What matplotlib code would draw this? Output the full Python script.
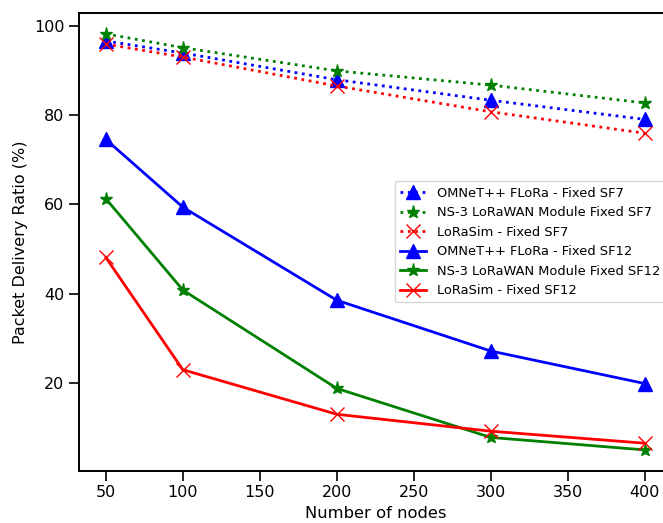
import matplotlib
matplotlib.use("Agg")
import matplotlib.pyplot as plt

nodes = [50, 100, 200, 300, 400]

omnet_sf7 = [96.7, 94.0, 88.0, 83.4, 79.1]
ns3_sf7 = [98.3, 95.2, 90.0, 86.8, 82.8]
lorasim_sf7 = [96.0, 93.1, 86.6, 80.8, 76.0]

omnet_sf12 = [74.6, 59.4, 38.5, 27.1, 19.8]
ns3_sf12 = [61.3, 40.8, 18.7, 7.7, 4.9]
lorasim_sf12 = [48.1, 22.9, 12.9, 9.1, 6.4]

plt.rcParams['font.size'] = 11.5
plt.rcParams['axes.linewidth'] = 1.4
plt.rcParams['xtick.major.size'] = 7
plt.rcParams['ytick.major.size'] = 7
plt.rcParams['xtick.major.width'] = 1.2
plt.rcParams['ytick.major.width'] = 1.2

fig = plt.figure(figsize=(6.63, 5.23), dpi=100)
ax = fig.add_axes([0.119, 0.100, 0.894, 0.875])

ax.plot(nodes, omnet_sf7, 'b^:', lw=2, ms=9.5, label='OMNeT++ FLoRa - Fixed SF7')
ax.plot(nodes, ns3_sf7, 'g*:', lw=2, ms=9.5, label='NS-3 LoRaWAN Module Fixed SF7')
ax.plot(nodes, lorasim_sf7, 'rx:', lw=2, ms=9.5, label='LoRaSim - Fixed SF7')
ax.plot(nodes, omnet_sf12, 'b^-', lw=2, ms=9.5, label='OMNeT++ FLoRa - Fixed SF12')
ax.plot(nodes, ns3_sf12, 'g*-', lw=2, ms=9.5, label='NS-3 LoRaWAN Module Fixed SF12')
ax.plot(nodes, lorasim_sf12, 'rx-', lw=2, ms=9.5, label='LoRaSim - Fixed SF12')

ax.set_xlabel('Number of nodes', fontsize=11.8)
ax.set_ylabel('Packet Delivery Ratio (%)', fontsize=11.5)
ax.legend(loc='center right', fontsize=9.4)

fig.savefig('out.png', dpi=100)
